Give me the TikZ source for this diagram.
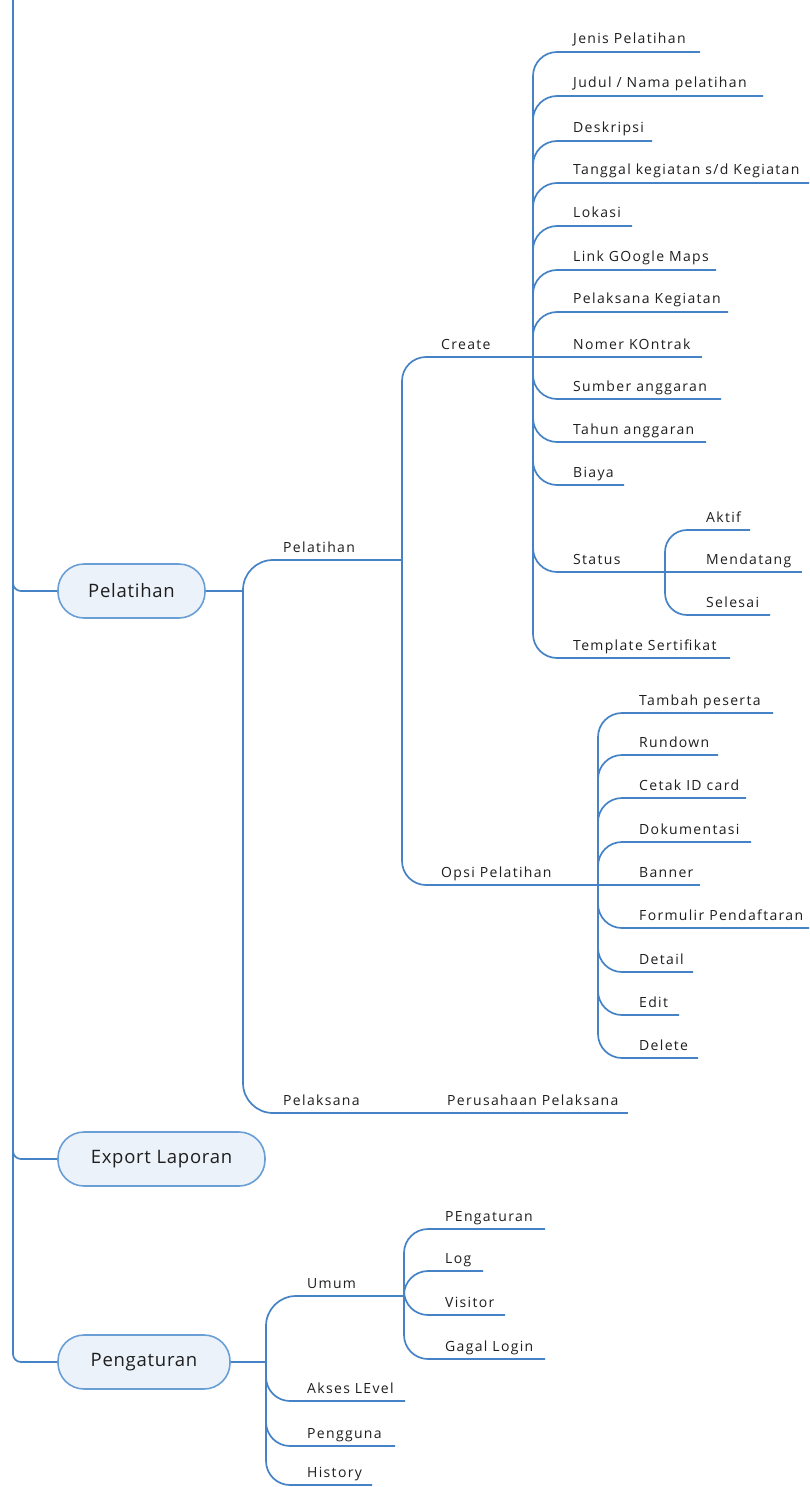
\documentclass[tikz,border=0pt]{standalone}
\usepackage{fontspec}
\setmainfont{Open Sans}
\definecolor{linec}{HTML}{4583C6}
\definecolor{boxfill}{HTML}{EBF2FA}
\definecolor{boxline}{HTML}{6A9FD6}
\definecolor{txt}{HTML}{1E1E1E}
\newfontfamily\lblfont[LetterSpace=9.5]{Open Sans}
\newfontfamily\boxfont[LetterSpace=4]{Open Sans}
\tikzset{
  conn/.style={draw=linec, line width=1.7pt},
  lbl/.style={font=\lblfont\fontsize{14}{16}\selectfont, text=txt, inner sep=0pt},
  mainbox/.style={draw=boxline, fill=boxfill, line width=1.6pt, rounded corners=26pt,
    minimum height=54pt, inner sep=0pt, font=\boxfont\fontsize{18.5}{22}\selectfont, text=txt},
}
% name, parent junction, radius, text x, underline y, end x, text
\newcommand\topic[7]{%
  \node[lbl, anchor=base west] (#1) at (#4,#5-8) {#7};
  \coordinate (#1-end) at (#6,#5);
  \draw[conn, rounded corners=#3] (#2) |- (#1-end);
}
% same as \topic, child on the parent's line
\newcommand\straighttopic[6]{%
  \node[lbl, anchor=base west] (#1) at (#3,#4-8) {#6};
  \coordinate (#1-end) at (#5,#4);
  \draw[conn] (#2) -- (#1-end);
}
\begin{document}
\begin{tikzpicture}[x=1pt,y=-1pt]
\useasboundingbox (0,0) rectangle (809,1487);
\coordinate (root) at (13,-2);
% main topics
\node[mainbox, minimum width=147pt] (pel) at (131.5,591) {Pelatihan};
\node[mainbox, minimum width=207pt] (exp) at (161.5,1159) {Export Laporan};
\node[mainbox, minimum width=172pt] (peng) at (144,1362) {Pengaturan};
\draw[conn, rounded corners=8] (root) |- (pel.west);
\draw[conn, rounded corners=8] (root) |- (exp.west);
\draw[conn, rounded corners=8] (root) |- (peng.west);
% Pelatihan
\coordinate (j1) at (243,591);
\draw[conn] (pel.east) -- (j1);
\topic{pl}{j1}{30}{283}{560}{402}{Pelatihan}
\topic{pk}{j1}{30}{283}{1113}{410}{Pelaksana}
\straighttopic{pp}{pk-end}{447}{1113}{628}{Perusahaan Pelaksana}
\topic{cr}{pl-end}{24}{441}{357}{533}{Create}
\topic{op}{pl-end}{24}{441}{885}{598}{Opsi Pelatihan}
% Create children
\topic{c1}{cr-end}{24}{573}{52}{700}{Jenis Pelatihan}
\topic{c2}{cr-end}{24}{573}{96}{763}{Judul / Nama pelatihan}
\topic{c3}{cr-end}{24}{573}{141}{652}{Deskripsi}
\topic{c4}{cr-end}{24}{573}{183}{809}{Tanggal kegiatan s/d Kegiatan}
\topic{c5}{cr-end}{24}{573}{226}{632}{Lokasi}
\topic{c6}{cr-end}{24}{573}{270}{716}{Link GOogle Maps}
\topic{c7}{cr-end}{24}{573}{312}{728}{Pelaksana Kegiatan}
\straighttopic{c8}{cr-end}{573}{357}{702}{Nomer KOntrak}
\topic{c9}{cr-end}{24}{573}{399}{721}{Sumber anggaran}
\topic{c10}{cr-end}{24}{573}{442}{706}{Tahun anggaran}
\topic{c11}{cr-end}{24}{573}{485}{624}{Biaya}
\topic{c12}{cr-end}{24}{573}{572}{665}{Status}
\topic{c13}{cr-end}{24}{573}{658}{730}{Template Sertifikat}
% Status children
\topic{s1}{c12-end}{22}{706}{530}{750}{Aktif}
\straighttopic{s2}{c12-end}{706}{572}{802}{Mendatang}
\topic{s3}{c12-end}{22}{706}{615}{770}{Selesai}
% Opsi children
\topic{o1}{op-end}{24}{639}{713}{773}{Tambah peserta}
\topic{o2}{op-end}{24}{639}{755}{718}{Rundown}
\topic{o3}{op-end}{24}{639}{798}{746}{Cetak ID card}
\topic{o4}{op-end}{24}{639}{842}{751}{Dokumentasi}
\straighttopic{o5}{op-end}{639}{885}{700}{Banner}
\topic{o6}{op-end}{24}{639}{928}{809}{Formulir Pendaftaran}
\topic{o7}{op-end}{24}{639}{972}{693}{Detail}
\topic{o8}{op-end}{24}{639}{1015}{679}{Edit}
\topic{o9}{op-end}{24}{639}{1058}{698}{Delete}
% Pengaturan
\coordinate (j3) at (266,1362);
\draw[conn] (peng.east) -- (j3);
\topic{u}{j3}{30}{307}{1296}{404}{Umum}
\topic{a}{j3}{24}{307}{1401}{405}{Akses LEvel}
\topic{g}{j3}{24}{307}{1446}{395}{Pengguna}
\topic{h}{j3}{24}{307}{1485}{372}{History}
\topic{u1}{u-end}{24}{445}{1229}{545}{PEngaturan}
\topic{u2}{u-end}{24}{445}{1271}{483}{Log}
\topic{u3}{u-end}{24}{445}{1315}{505}{Visitor}
\topic{u4}{u-end}{24}{445}{1359}{545}{Gagal Login}
\end{tikzpicture}
\end{document}
